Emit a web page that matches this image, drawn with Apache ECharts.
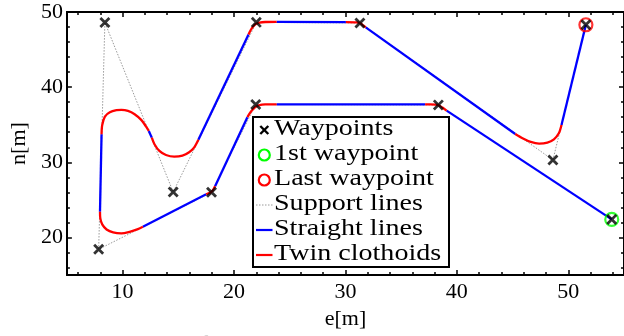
<!DOCTYPE html>
<html>
<head>
<meta charset="utf-8">
<script src="https://cdn.jsdelivr.net/npm/echarts@6/dist/echarts.min.js"></script>
<style>
  html, body { margin: 0; padding: 0; background: #fff; }
  #chart { width: 624px; height: 336px; }
</style>
</head>
<body>
<div id="chart"></div>
<script>
// Axis ticks
const xMajorTicks = [10, 20, 30, 40, 50];
const xMinorTicks = [6, 8, 12, 14, 16, 18, 22, 24, 26, 28, 32, 34, 36, 38, 42, 44, 46, 48, 52, 54];
const yMajorTicks = [20, 30, 40, 50];
const yMinorTicks = [16, 18, 22, 24, 26, 28, 32, 34, 36, 38, 42, 44, 46, 48];

// Waypoints [e, n] in the order the path visits them
const waypoints = [
  [53.9, 22.4], [38.34, 37.64], [21.95, 37.7], [17.98, 26.0], [7.85, 18.42],
  [8.41, 48.6], [14.54, 26.05], [22.0, 48.62], [31.3, 48.55], [48.62, 30.31], [51.58, 48.3]
];
const firstWaypoint = [53.9, 22.4];
const lastWaypoint = [51.58, 48.3];

// Straight parts of the path
const straightLines = [
  [[53.9, 22.4], [39.08, 36.88]],
  [[37.15, 37.7], [23.82, 37.72]],
  [[21.2, 36.0], [18.3, 26.8]],
  [[17.5, 25.75], [11.82, 21.42]],
  [[7.97, 23.42], [8.11, 33.73]],
  [[12.35, 34.17], [12.62, 33.28]],
  [[16.8, 33.0], [21.3, 47.0]],
  [[23.82, 48.68], [30.04, 48.65]],
  [[31.82, 47.95], [45.24, 33.77]],
  [[49.39, 34.97], [51.58, 48.3]]
];

// Twin clothoid turns between the straight parts
const twinClothoids = [
  [[39.08, 36.88], [38.7, 37.28], [38.4, 37.55], [38.1, 37.68], [37.6, 37.7], [37.15, 37.7]],
  [[23.82, 37.72], [22.8, 37.7], [22.3, 37.62], [21.95, 37.4], [21.7, 37.05], [21.45, 36.6], [21.2, 36.0]],
  [[18.3, 26.8], [18.0, 26.1], [17.5, 25.75]],
  [[11.82, 21.42], [11.37, 21.11], [10.63, 20.75], [9.89, 20.53], [9.15, 20.66], [8.56, 21.06], [8.17, 21.73], [8.0, 22.53], [7.97, 23.42]],
  [[8.11, 33.73], [8.17, 34.97], [8.41, 36.08], [8.855, 36.66], [9.45, 36.93], [9.89, 36.97], [10.48, 36.84], [11.08, 36.4], [11.67, 35.64], [12.11, 34.75], [12.35, 34.17]],
  [[12.62, 33.28], [12.86, 32.4], [13.3, 31.51], [13.89, 30.97], [14.63, 30.75], [15.37, 30.88], [15.97, 31.33], [16.41, 31.95], [16.8, 33.0]],
  [[21.3, 47.0], [21.5, 47.6], [21.7, 48.05], [21.95, 48.4], [22.3, 48.6], [22.8, 48.67], [23.82, 48.68]],
  [[30.04, 48.65], [31.0, 48.62], [31.35, 48.5], [31.6, 48.2], [31.82, 47.95]],
  [[45.24, 33.77], [45.89, 33.2], [46.63, 32.71], [47.38, 32.49], [48.12, 32.62], [48.71, 33.06], [49.15, 33.86], [49.39, 34.97]]
];

const legendLabels = ['Waypoints', '1st waypoint', 'Last waypoint', 'Support lines', 'Straight lines', 'Twin clothoids'];

const FONT = 'Liberation Serif';
const BLUE = '#0000ff';
const RED = '#ff0000';
const GREEN = '#00ff00';
const CROSS = 'path://M1.8,0L10,8.2L8.2,10L0,1.8ZM8.2,0L10,1.8L1.8,10L0,8.2Z';

function majorAxis(position, ticks, min, max, extra) {
  return Object.assign({
    type: 'value', position: position, min: min, max: max,
    axisLine: { show: true, onZero: false, lineStyle: { color: '#000', width: 2 } },
    axisTick: { show: true, inside: true, length: 5, customValues: ticks, lineStyle: { color: '#000', width: 1.5 } },
    axisLabel: { show: false },
    splitLine: { show: false }
  }, extra || {});
}
function minorAxis(position, ticks, min, max) {
  return {
    type: 'value', position: position, min: min, max: max,
    axisLine: { show: false, onZero: false },
    axisTick: { show: true, inside: true, length: 3, customValues: ticks, lineStyle: { color: '#000', width: 1.5 } },
    axisLabel: { show: false },
    splitLine: { show: false }
  };
}

const series = [];
series.push({
  name: 'Support lines', type: 'line', data: waypoints, symbol: 'none', silent: true,
  lineStyle: { color: '#9a9a9a', width: 1, type: [1.5, 1.5] }, z: 2
});
straightLines.forEach(function (seg) {
  series.push({ name: 'Straight lines', type: 'line', data: seg, symbol: 'none',
    lineStyle: { color: BLUE, width: 2.3 }, z: 3 });
});
twinClothoids.forEach(function (seg) {
  series.push({ name: 'Twin clothoids', type: 'line', data: seg, symbol: 'none', smooth: 0.3,
    lineStyle: { color: RED, width: 2.3 }, z: 4 });
});
series.push({
  name: '1st waypoint', type: 'scatter', data: [firstWaypoint], symbol: 'circle', symbolSize: 13,
  itemStyle: { color: 'rgba(0,0,0,0)', borderColor: GREEN, borderWidth: 2.2 }, z: 5
});
series.push({
  name: 'Last waypoint', type: 'scatter', data: [lastWaypoint], symbol: 'circle', symbolSize: 13,
  itemStyle: { color: 'rgba(0,0,0,0)', borderColor: RED, borderWidth: 2.2 }, z: 5
});
series.push({
  name: 'Waypoints', type: 'scatter', data: waypoints, symbol: CROSS, symbolSize: 11,
  itemStyle: { color: '#000' }, z: 6
});

// Legend box drawn with graphic elements
const LX = 253, LY = 117, LW = 196, LH = 150;
const rowY = [130, 155, 180, 205, 230, 255];
const legendGraphics = [
  { type: 'rect', shape: { x: LX, y: LY, width: LW, height: LH },
    style: { fill: '#fff', stroke: '#000', lineWidth: 2 }, z: 100 },
  { type: 'line', shape: { x1: 260.3, y1: rowY[0] - 4, x2: 268.3, y2: rowY[0] + 4 }, style: { stroke: '#000', lineWidth: 2.4 }, z: 101 },
  { type: 'line', shape: { x1: 268.3, y1: rowY[0] - 4, x2: 260.3, y2: rowY[0] + 4 }, style: { stroke: '#000', lineWidth: 2.4 }, z: 101 },
  { type: 'circle', shape: { cx: 264.3, cy: rowY[1], r: 5.5 }, style: { fill: 'none', stroke: GREEN, lineWidth: 2.2 }, z: 101 },
  { type: 'circle', shape: { cx: 264.3, cy: rowY[2], r: 5.5 }, style: { fill: 'none', stroke: RED, lineWidth: 2.2 }, z: 101 },
  { type: 'line', shape: { x1: 256, y1: rowY[3], x2: 272.5, y2: rowY[3] }, style: { stroke: '#9a9a9a', lineWidth: 1, lineDash: [1.5, 1.5] }, z: 101 },
  { type: 'line', shape: { x1: 256, y1: rowY[4], x2: 272.5, y2: rowY[4] }, style: { stroke: BLUE, lineWidth: 2.2 }, z: 101 },
  { type: 'line', shape: { x1: 256, y1: rowY[5], x2: 272.5, y2: rowY[5] }, style: { stroke: RED, lineWidth: 2.2 }, z: 101 }
];
legendLabels.forEach(function (label, i) {
  legendGraphics.push({
    type: 'text', x: 274, y: rowY[i] - 1, scaleX: 1.22, z: 101,
    style: { text: label, font: '23px "' + FONT + '"', fill: '#000', textVerticalAlign: 'middle' }
  });
});
// Caption below the figure (mostly outside the frame)
legendGraphics.push({
  type: 'text', x: 4, y: 333, z: 101,
  style: { text: 'Figure 4.5: Example of the path with twin clothoids', font: '22px "' + FONT + '"', fill: '#d4d4d4', textVerticalAlign: 'top' }
});

const option = {
  animation: false,
  backgroundColor: '#fff',
  grid: { left: 63, right: -2, top: 12, bottom: 61, containLabel: false },
  xAxis: [
    majorAxis('bottom', xMajorTicks, 5, 55, {
      axisLabel: { show: true, customValues: xMajorTicks, fontFamily: FONT, fontSize: 22, color: '#000', margin: 6 },
      name: 'e[m]', nameLocation: 'middle', nameGap: 24,
      nameTextStyle: { fontFamily: FONT, fontSize: 22, color: '#000' }
    }),
    minorAxis('bottom', xMinorTicks, 5, 55),
    majorAxis('top', xMajorTicks, 5, 55),
    minorAxis('top', xMinorTicks, 5, 55)
  ],
  yAxis: [
    majorAxis('left', yMajorTicks, 15, 50, {
      axisLabel: { show: true, customValues: yMajorTicks, fontFamily: FONT, fontSize: 22, color: '#000', margin: 4 },
      name: 'n[m]', nameLocation: 'middle', nameGap: 32,
      nameTextStyle: { fontFamily: FONT, fontSize: 22, color: '#000' }
    }),
    minorAxis('left', yMinorTicks, 15, 50),
    majorAxis('right', yMajorTicks, 15, 50),
    minorAxis('right', yMinorTicks, 15, 50)
  ],
  series: series,
  graphic: legendGraphics
};

const chart = echarts.init(document.getElementById('chart'), null, { renderer: 'canvas' });
chart.setOption(option);
</script>
</body>
</html>
